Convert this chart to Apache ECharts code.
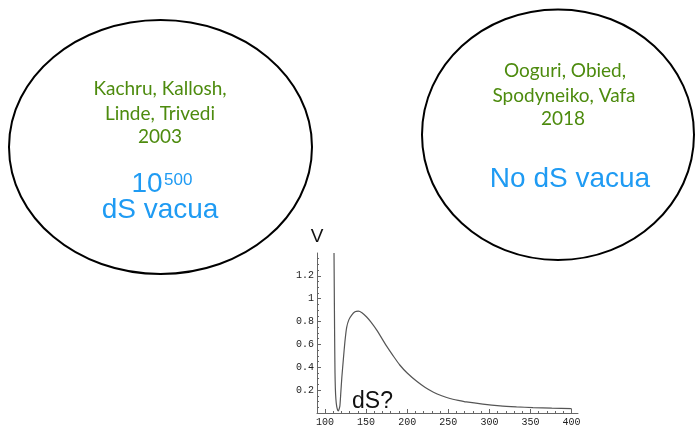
<!DOCTYPE html>
<html>
<head>
<meta charset="utf-8">
<script src="https://cdn.jsdelivr.net/npm/echarts@6/dist/echarts.min.js"></script>
<style>
html,body{margin:0;padding:0;background:#fff;}
#chart{width:696px;height:427px;}
</style>
</head>
<body>
<div id="chart"></div>
<script>
// Potential V(sigma)
const sigmaValues = [111, 111.3, 111.6, 111.9, 112.2, 112.6, 113.3, 114.3, 115.5, 116.5, 117.3, 118.1, 119.1, 120.5, 122.3, 124.2, 126.4, 129, 132.5, 136.5, 140.5, 145, 150.7, 156, 163, 169, 175, 183, 191, 200, 212, 222, 232, 242, 252, 262, 272, 292, 313, 333, 353, 376, 400];
const vValues     = [1.40, 1.10, 0.80, 0.55, 0.35, 0.22, 0.12, 0.055, 0.025, 0.018, 0.02, 0.06, 0.16, 0.31, 0.465, 0.62, 0.749, 0.815, 0.857, 0.885, 0.891, 0.877, 0.84, 0.795, 0.725, 0.655, 0.585, 0.5, 0.42, 0.35, 0.275, 0.223, 0.182, 0.151, 0.127, 0.111, 0.097, 0.078, 0.063, 0.054, 0.047, 0.042, 0.038];
const xMajorTicks = [100, 150, 200, 250, 300, 350, 400];
const xMinorTicks = [100, 110, 120, 130, 140, 150, 160, 170, 180, 190, 200, 210, 220, 230, 240, 250, 260, 270, 280, 290, 300, 310, 320, 330, 340, 350, 360, 370, 380, 390, 400];
const yTickLabels = [0.2, 0.4, 0.6, 0.8, 1, 1.2];
const yMinorTicks = [0.05, 0.1, 0.15, 0.2, 0.25, 0.3, 0.35, 0.4, 0.45, 0.5, 0.55, 0.6, 0.65, 0.7, 0.75, 0.8, 0.85, 0.9, 0.95, 1, 1.05, 1.1, 1.15, 1.2, 1.25, 1.3, 1.35];

const leftTitle = ['Kachru, Kallosh,', 'Linde, Trivedi', '2003'];
const rightTitle = ['Ooguri, Obied,', 'Spodyneiko, Vafa', '2018'];

const green = '#4d8b0e';
const blue = '#1f9bf3';
const axisColor = '#666';
const monoFont = '"Liberation Mono", "DejaVu Sans Mono", monospace';
const gillFont = 'Lato, "Open Sans", sans-serif';
const helv = '"Liberation Sans", Arial, sans-serif';

const chart = echarts.init(document.getElementById('chart'), null, {renderer: 'canvas'});

const xMin = 90.3, xMax = 407.8;

const option = {
  animation: false,
  backgroundColor: '#fff',
  grid: {left: 317, top: 253, right: 118, bottom: 9, containLabel: false},
  xAxis: [
    {
      type: 'value', min: xMin, max: xMax,
      axisLine: {show: true, lineStyle: {color: axisColor, width: 1}},
      axisTick: {show: true, inside: true, length: 4, lineStyle: {color: axisColor}, customValues: xMajorTicks},
      axisLabel: {show: true, customValues: xMajorTicks, margin: 4, fontFamily: monoFont, fontSize: 10, color: '#222'},
      splitLine: {show: false}
    },
    {
      type: 'value', min: xMin, max: xMax, position: 'bottom', offset: 0,
      axisLine: {show: false},
      axisTick: {show: true, inside: true, length: 2, lineStyle: {color: axisColor}, customValues: xMinorTicks},
      axisLabel: {show: false},
      splitLine: {show: false}
    }
  ],
  yAxis: [
    {
      type: 'value', min: 0, max: 1.4,
      name: 'V', nameLocation: 'end', nameGap: 7,
      nameTextStyle: {fontFamily: helv, fontSize: 19, color: '#111', align: 'center', verticalAlign: 'bottom'},
      axisLine: {show: true, lineStyle: {color: axisColor, width: 1}},
      axisTick: {show: true, inside: true, length: 4, lineStyle: {color: axisColor}, customValues: yTickLabels},
      axisLabel: {show: true, customValues: yTickLabels, margin: 3, fontFamily: monoFont, fontSize: 10, color: '#222'},
      splitLine: {show: false}
    },
    {
      type: 'value', min: 0, max: 1.4, position: 'left', offset: 0,
      axisLine: {show: false},
      axisTick: {show: true, inside: true, length: 2, lineStyle: {color: axisColor}, customValues: yMinorTicks},
      axisLabel: {show: false},
      splitLine: {show: false}
    }
  ],
  series: [{
    type: 'line',
    xAxisIndex: 0, yAxisIndex: 0,
    data: sigmaValues.map((s, i) => [s, vValues[i]]),
    showSymbol: false,
    smooth: 0.2,
    lineStyle: {color: '#555', width: 1.2},
    z: 3
  }],
  graphic: [
    {type: 'ellipse', shape: {cx: 160.5, cy: 147, rx: 151.5, ry: 127}, style: {fill: 'none', stroke: '#000', lineWidth: 2}, z: 10},
    {type: 'ellipse', shape: {cx: 558, cy: 134.7, rx: 136, ry: 125.3}, style: {fill: 'none', stroke: '#000', lineWidth: 2}, z: 10},
    {type: 'text', x: 160, y: 89, style: {text: leftTitle[0], font: '19px ' + gillFont, fill: green, align: 'center', verticalAlign: 'middle'}, z: 11},
    {type: 'text', x: 160, y: 114, style: {text: leftTitle[1], font: '19px ' + gillFont, fill: green, align: 'center', verticalAlign: 'middle'}, z: 11},
    {type: 'text', x: 160, y: 137, style: {text: leftTitle[2], font: '19px ' + gillFont, fill: green, align: 'center', verticalAlign: 'middle'}, z: 11},
    {type: 'text', x: 147, y: 184, style: {text: '10', font: '28px ' + helv, fill: blue, align: 'center', verticalAlign: 'middle'}, z: 11},
    {type: 'text', x: 164, y: 180, style: {text: '500', font: '17px ' + helv, fill: blue, align: 'left', verticalAlign: 'middle'}, z: 11},
    {type: 'text', x: 160, y: 210, style: {text: 'dS vacua', font: '28px ' + helv, fill: blue, align: 'center', verticalAlign: 'middle'}, z: 11},
    {type: 'text', x: 565, y: 71, style: {text: rightTitle[0], font: '19px ' + gillFont, fill: green, align: 'center', verticalAlign: 'middle'}, z: 11},
    {type: 'text', x: 564, y: 96, style: {text: rightTitle[1], font: '19px ' + gillFont, fill: green, align: 'center', verticalAlign: 'middle'}, z: 11},
    {type: 'text', x: 563, y: 119, style: {text: rightTitle[2], font: '19px ' + gillFont, fill: green, align: 'center', verticalAlign: 'middle'}, z: 11},
    {type: 'text', x: 570, y: 179, style: {text: 'No dS vacua', font: '28px ' + helv, fill: blue, align: 'center', verticalAlign: 'middle'}, z: 11},
    {type: 'text', x: 372.5, y: 402, style: {text: 'dS?', font: '23px ' + helv, fill: '#111', align: 'center', verticalAlign: 'middle'}, z: 11}
  ]
};
chart.setOption(option);
</script>
</body>
</html>
